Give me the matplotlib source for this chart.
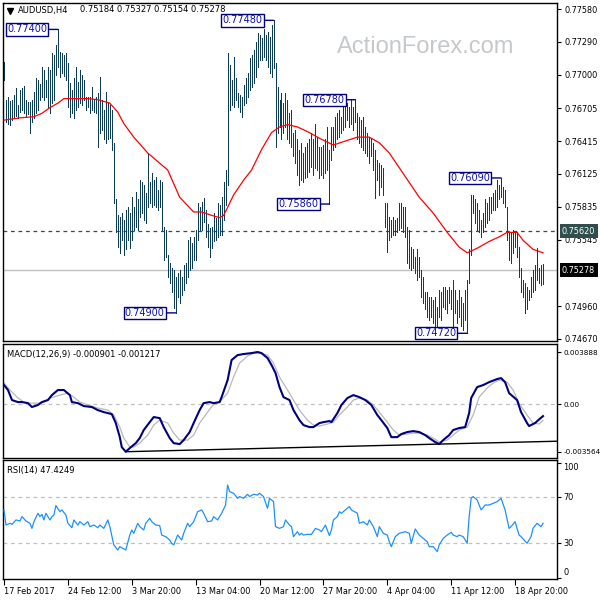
import matplotlib
matplotlib.use("Agg")
import matplotlib.pyplot as plt
from matplotlib.transforms import blended_transform_factory
import numpy as np

plt.rcParams['font.family'] = ['DejaVu Sans']

# ---------------- data ----------------
symbol = "AUDUSD,H4"
last_ohlc = [0.75184, 0.75327, 0.75154, 0.75278]

highs = [
    0.7711, 0.7678, 0.7680, 0.7677, 0.7678, 0.7682, 0.7688, 0.7673, 0.7687, 0.7688,
    0.7690, 0.7678, 0.7676, 0.7676, 0.7678, 0.7685, 0.7697, 0.7695, 0.7692, 0.7707,
    0.7704, 0.7695, 0.7707, 0.7704, 0.7719, 0.7717, 0.7726, 0.7740, 0.7720, 0.7719,
    0.7717, 0.7719, 0.7710, 0.7693, 0.7687, 0.7697, 0.7707, 0.7694, 0.7704, 0.7700,
    0.7695, 0.7680, 0.7680, 0.7680, 0.7689, 0.7678, 0.7680, 0.7684, 0.7698, 0.7678,
    0.7669, 0.7685, 0.7675, 0.7673, 0.7669, 0.7640, 0.7590, 0.7576, 0.7575, 0.7578,
    0.7572, 0.7581, 0.7583, 0.7578, 0.7592, 0.7583, 0.7597, 0.7590, 0.7607, 0.7605,
    0.7603, 0.7596, 0.7631, 0.7605, 0.7613, 0.7607, 0.7610, 0.7598, 0.7607, 0.7605,
    0.7566, 0.7563, 0.7541, 0.7534, 0.7530, 0.7528, 0.7522, 0.7525, 0.7528, 0.7522,
    0.7532, 0.7534, 0.7554, 0.7557, 0.7552, 0.7557, 0.7563, 0.7587, 0.7583, 0.7588,
    0.7591, 0.7581, 0.7568, 0.7565, 0.7566, 0.7578, 0.7574, 0.7587, 0.7585, 0.7592,
    0.7605, 0.7616, 0.7719, 0.7709, 0.7695, 0.7716, 0.7697, 0.7684, 0.7682, 0.7680,
    0.7691, 0.7697, 0.7702, 0.7715, 0.7717, 0.7722, 0.7729, 0.7737, 0.7735, 0.7732,
    0.7740, 0.7735, 0.7738, 0.7733, 0.7744, 0.7748, 0.7710, 0.7689, 0.7678, 0.7684,
    0.7675, 0.7684, 0.7678, 0.7666, 0.7669, 0.7649, 0.7651, 0.7643, 0.7634, 0.7640,
    0.7631, 0.7636, 0.7640, 0.7643, 0.7649, 0.7643, 0.7657, 0.7645, 0.7636, 0.7636,
    0.7638, 0.7643, 0.7654, 0.7634, 0.7654, 0.7654, 0.7663, 0.7666, 0.7669, 0.7663,
    0.7672, 0.7675, 0.7675, 0.7672, 0.7678, 0.7672, 0.7678, 0.7666, 0.7663, 0.7660,
    0.7663, 0.7654, 0.7649, 0.7645, 0.7643, 0.7640, 0.7634, 0.7625, 0.7622, 0.7620,
    0.7618, 0.7587, 0.7587, 0.7575, 0.7572, 0.7575, 0.7572, 0.7574, 0.7587, 0.7587,
    0.7583, 0.7583, 0.7566, 0.7563, 0.7548, 0.7546, 0.7539, 0.7546, 0.7539, 0.7528,
    0.7522, 0.7508, 0.7508, 0.7504, 0.7504, 0.7501, 0.7504, 0.7495, 0.7510, 0.7508,
    0.7513, 0.7513, 0.7510, 0.7513, 0.7510, 0.7519, 0.7510, 0.7501, 0.7510, 0.7504,
    0.7499, 0.7510, 0.7519, 0.7546, 0.7594, 0.7594, 0.7590, 0.7587, 0.7581, 0.7572,
    0.7578, 0.7590, 0.7587, 0.7592, 0.7592, 0.7596, 0.7598, 0.7607, 0.7603, 0.7609,
    0.7601, 0.7598, 0.7583, 0.7561, 0.7561, 0.7563, 0.7561, 0.7561, 0.7548, 0.7530,
    0.7519, 0.7516, 0.7513, 0.7510, 0.7522, 0.7528, 0.7532, 0.7547, 0.7530, 0.7532,
    0.75327,
]
lows = [
    0.7695, 0.7658, 0.7657, 0.7656, 0.7660, 0.7662, 0.7664, 0.7662, 0.7667, 0.7669,
    0.7666, 0.7663, 0.7665, 0.7649, 0.7658, 0.7662, 0.7666, 0.7669, 0.7678, 0.7680,
    0.7678, 0.7680, 0.7672, 0.7666, 0.7675, 0.7678, 0.7700, 0.7707, 0.7698, 0.7702,
    0.7699, 0.7695, 0.7672, 0.7663, 0.7666, 0.7662, 0.7669, 0.7672, 0.7675, 0.7673,
    0.7678, 0.7669, 0.7672, 0.7666, 0.7669, 0.7667, 0.7666, 0.7636, 0.7649, 0.7651,
    0.7643, 0.7640, 0.7643, 0.7644, 0.7634, 0.7587, 0.7561, 0.7548, 0.7543, 0.7554,
    0.7541, 0.7546, 0.7554, 0.7547, 0.7554, 0.7563, 0.7566, 0.7563, 0.7575, 0.7578,
    0.7572, 0.7569, 0.7583, 0.7587, 0.7583, 0.7585, 0.7583, 0.7581, 0.7583, 0.7563,
    0.7537, 0.7539, 0.7522, 0.7516, 0.7508, 0.7494, 0.7490, 0.7504, 0.7499, 0.7506,
    0.7510, 0.7516, 0.7522, 0.7528, 0.7530, 0.7537, 0.7537, 0.7554, 0.7563, 0.7563,
    0.7570, 0.7557, 0.7548, 0.7539, 0.7547, 0.7553, 0.7554, 0.7557, 0.7559, 0.7559,
    0.7572, 0.7585, 0.7603, 0.7669, 0.7673, 0.7672, 0.7678, 0.7672, 0.7667, 0.7663,
    0.7673, 0.7675, 0.7680, 0.7687, 0.7689, 0.7693, 0.7698, 0.7707, 0.7713, 0.7713,
    0.7716, 0.7713, 0.7707, 0.7702, 0.7698, 0.7706, 0.7636, 0.7649, 0.7654, 0.7643,
    0.7649, 0.7654, 0.7643, 0.7640, 0.7636, 0.7628, 0.7622, 0.7612, 0.7603, 0.7607,
    0.7605, 0.7609, 0.7610, 0.7614, 0.7619, 0.7612, 0.7618, 0.7616, 0.7609, 0.7612,
    0.7609, 0.7613, 0.7616, 0.7586, 0.7625, 0.7634, 0.7636, 0.7643, 0.7645, 0.7649,
    0.7651, 0.7654, 0.7660, 0.7654, 0.7657, 0.7651, 0.7658, 0.7643, 0.7640, 0.7636,
    0.7634, 0.7631, 0.7628, 0.7622, 0.7628, 0.7616, 0.7591, 0.7607, 0.7594, 0.7601,
    0.7594, 0.7566, 0.7544, 0.7554, 0.7557, 0.7559, 0.7559, 0.7561, 0.7563, 0.7565,
    0.7561, 0.7557, 0.7534, 0.7530, 0.7528, 0.7530, 0.7525, 0.7519, 0.7522, 0.7504,
    0.7499, 0.7493, 0.7486, 0.7484, 0.7486, 0.7481, 0.7475, 0.7478, 0.7486, 0.7484,
    0.7495, 0.7493, 0.7490, 0.7499, 0.7493, 0.7473, 0.7490, 0.7481, 0.7486, 0.7478,
    0.7475, 0.7484, 0.7472, 0.7516, 0.7541, 0.7578, 0.7569, 0.7563, 0.7561, 0.7557,
    0.7561, 0.7566, 0.7569, 0.7572, 0.7578, 0.7581, 0.7581, 0.7583, 0.7590, 0.7592,
    0.7587, 0.7583, 0.7554, 0.7537, 0.7534, 0.7543, 0.7548, 0.7539, 0.7522, 0.7508,
    0.7504, 0.7490, 0.7493, 0.7501, 0.7504, 0.7508, 0.7510, 0.7519, 0.7516, 0.7515,
    0.75154,
]

ma_idx = [0, 8, 15, 19, 23, 27, 30, 42, 47, 53, 57, 60, 65, 72, 80, 82, 88, 95, 99, 104,
          108, 110, 112, 115, 120, 124, 129, 134, 138, 142, 147, 153, 158, 165, 170, 177, 183, 188, 193, 198,
          208, 215, 222, 228, 232, 237, 243, 248, 252, 257, 260, 265, 270]
ma_val = [0.7660, 0.7662, 0.7663, 0.7666, 0.7671, 0.7675, 0.7679, 0.7679, 0.7678, 0.7675,
          0.7667, 0.7657, 0.7645, 0.7631, 0.7619, 0.7616, 0.7592, 0.7579, 0.7579, 0.7576,
          0.7574, 0.7576, 0.7583, 0.7594, 0.7607, 0.7616, 0.7634, 0.7649, 0.7654, 0.7656,
          0.7654, 0.7649, 0.7644, 0.7638, 0.7641, 0.7645, 0.7645, 0.7640, 0.7631, 0.7618,
          0.7592, 0.7578, 0.7561, 0.7548, 0.7543, 0.7547, 0.7553, 0.7557, 0.7561, 0.7561,
          0.7554, 0.7546, 0.7543]

swing_idx = [27, 135, 176, 163, 86, 249, 232]
swing_price = [0.7740, 0.7748, 0.7678, 0.7586, 0.7490, 0.7609, 0.7472]

price_ticks = [0.77580, 0.77290, 0.77000, 0.76705, 0.76415, 0.76125, 0.75835, 0.75545, 0.74960, 0.74670]
hline_level = 0.75620

x_tick_idx = [0, 32, 64, 96, 128, 160, 192, 224, 256]
x_tick_labels = ["17 Feb 2017", "24 Feb 12:00", "3 Mar 20:00", "13 Mar 04:00", "20 Mar 12:00",
                 "27 Mar 20:00", "4 Apr 04:00", "11 Apr 12:00", "18 Apr 20:00"]

macd_idx = [0, 2, 4, 7, 9, 12, 14, 17, 19, 22, 24, 27, 30, 33, 34, 37, 40, 44, 47, 50,
            54, 56, 58, 59, 61, 63, 66, 68, 70, 73, 75, 78, 80, 83, 85, 88, 90, 93, 95, 98,
            100, 103, 105, 108, 109, 112, 114, 117, 120, 124, 127, 129, 132, 134, 136, 138, 140, 143, 145, 148,
            150, 153, 155, 158, 160, 163, 164, 167, 169, 172, 175, 178, 181, 184, 187, 189, 192, 194, 197, 199,
            202, 205, 208, 211, 213, 216, 218, 220, 223, 225, 228, 231, 233, 234, 237, 240, 243, 247, 249, 251,
            253, 257, 259, 262, 263, 266, 268, 270]
macd_val = [0.00142, 0.00105, 0.00030, 0.00015, 0.00015, 0.00007, -0.00022, -0.00007, 0.00015, 0.00030,
            0.00067, 0.00105, 0.00105, 0.00067, 0.00015, 0.00007, -0.00015, -0.00022, -0.00045, -0.00060,
            -0.00075, -0.00142, -0.00247, -0.00322, -0.00356, -0.00329, -0.00292, -0.00254, -0.00194, -0.00135,
            -0.00097, -0.00105, -0.00172, -0.00254, -0.00292, -0.00299, -0.00269, -0.00209, -0.00142, -0.00045,
            0.00007, 0.00015, 0.00007, 0.00015, 0.00052, 0.00179, 0.00329, 0.00366, 0.00374, 0.00381,
            0.00389, 0.00381, 0.00344, 0.00292, 0.00232, 0.00127, 0.00052, 0.00030, -0.00045, -0.00120,
            -0.00157, -0.00172, -0.00172, -0.00142, -0.00135, -0.00127, -0.00135, -0.00067, -0.00007, 0.00045,
            0.00067, 0.00052, 0.00030, -0.00007, -0.00082, -0.00120, -0.00179, -0.00247, -0.00247, -0.00224,
            -0.00209, -0.00202, -0.00209, -0.00232, -0.00254, -0.00284, -0.00299, -0.00269, -0.00232, -0.00194,
            -0.00179, -0.00172, -0.00067, 0.00045, 0.00127, 0.00142, 0.00164, 0.00187, 0.00194, 0.00164,
            0.00082, 0.00030, -0.00060, -0.00142, -0.00164, -0.00142, -0.00115, -0.00090]

sig_idx = [0, 3, 7, 10, 13, 17, 20, 23, 28, 32, 35, 38, 42, 47, 52, 55, 58, 60, 63, 65,
           68, 72, 75, 78, 82, 85, 88, 92, 95, 98, 102, 105, 108, 112, 115, 118, 122, 125, 128, 132,
           135, 138, 142, 145, 148, 152, 155, 158, 162, 165, 168, 172, 175, 178, 182, 185, 188, 192, 195, 198,
           202, 205, 208, 212, 215, 218, 222, 225, 228, 232, 235, 238, 242, 245, 248, 252, 255, 258, 262, 265,
           268, 270]
sig_val = [0.00157, 0.00105, 0.00045, 0.00015, 0.00007, 0.00007, 0.00015, 0.00045, 0.00067, 0.00082,
           0.00052, 0.00015, -0.00007, -0.00030, -0.00045, -0.00082, -0.00172, -0.00254, -0.00321, -0.00321,
           -0.00291, -0.00232, -0.00157, -0.00120, -0.00142, -0.00217, -0.00269, -0.00269, -0.00232, -0.00142,
           -0.00060, 0.0, 0.00015, 0.00082, 0.00202, 0.00306, 0.00359, 0.00381, 0.00381, 0.00366,
           0.00306, 0.00202, 0.00105, 0.00030, -0.00045, -0.00120, -0.00157, -0.00164, -0.00149, -0.00135,
           -0.00082, -0.00022, 0.00030, 0.00045, 0.00030, -0.00007, -0.00060, -0.00135, -0.00194, -0.00232,
           -0.00224, -0.00217, -0.00217, -0.00232, -0.00254, -0.00284, -0.00269, -0.00232, -0.00194, -0.00172,
           -0.00082, 0.00052, 0.00120, 0.00157, 0.00179, 0.00164, 0.00105, 0.00007, -0.00082, -0.00142,
           -0.00149, -0.00122]

trend_idx = [61, 218]
trend_val = [-0.00356, -0.00299]
macd_ticks = [0.003888, 0.0, -0.003564]
macd_tick_labels = ["0.003888", "0.00", "-0.003564"]

rsi_idx = [0, 1, 3, 4, 6, 8, 9, 11, 13, 14, 15, 17, 18, 19, 20, 21, 23, 24, 25, 26,
           28, 29, 31, 32, 34, 35, 37, 38, 40, 42, 43, 45, 47, 48, 50, 52, 53, 55, 57, 58,
           60, 61, 63, 64, 65, 67, 68, 70, 71, 73, 74, 76, 78, 79, 81, 83, 84, 85, 87, 89,
           90, 92, 93, 95, 97, 99, 100, 102, 104, 105, 107, 109, 111, 112, 113, 115, 117, 118, 120, 122,
           123, 125, 127, 128, 130, 132, 133, 135, 136, 138, 140, 141, 143, 144, 145, 147, 148, 149, 150, 152,
           154, 156, 158, 159, 161, 163, 164, 165, 167, 168, 169, 171, 173, 174, 177, 178, 180, 182, 183, 185,
           187, 188, 190, 192, 193, 194, 196, 198, 201, 203, 204, 206, 208, 210, 212, 213, 215, 217, 218, 220,
           222, 224, 225, 227, 228, 230, 232, 233, 234, 235, 237, 239, 241, 243, 245, 247, 249, 251, 253, 254,
           256, 258, 259, 262, 264, 265, 267, 269, 270]
rsi_val = [59.0, 45.9, 47.4, 46.5, 50.3, 49.4, 53.2, 49.4, 47.4, 43.0, 48.8, 56.1, 53.2, 55.2, 50.3, 56.1, 50.3, 53.2, 54.6, 62.8,
           57.5, 59.0, 54.6, 47.4, 43.6, 50.3, 45.9, 48.8, 45.9, 48.8, 44.5, 45.9, 43.6, 45.9, 43.0, 50.3, 44.5, 28.6, 24.2, 27.1,
           25.1, 24.2, 37.2, 41.6, 38.7, 47.4, 44.5, 41.6, 47.4, 51.7, 48.8, 45.9, 45.4, 37.2, 35.8, 32.9, 30.0, 28.6, 37.2, 32.9,
           38.7, 47.4, 44.5, 48.8, 57.5, 59.0, 56.1, 48.8, 49.4, 53.2, 50.3, 56.1, 63.3, 80.7, 74.9, 73.5, 69.1, 70.6, 69.1, 72.6,
           70.6, 72.6, 72.0, 73.5, 70.6, 60.4, 69.1, 66.2, 44.5, 43.0, 44.5, 50.3, 45.9, 44.5, 35.8, 40.1, 37.2, 38.7, 37.2, 37.8,
           37.8, 43.0, 41.6, 40.1, 45.9, 36.7, 41.6, 50.3, 53.2, 57.5, 56.1, 59.0, 61.9, 59.0, 56.1, 47.4, 48.8, 45.9, 50.3, 44.5,
           35.8, 44.5, 38.7, 37.2, 31.4, 27.1, 35.8, 38.7, 40.1, 38.7, 30.0, 42.5, 37.2, 34.3, 31.4, 27.1, 27.1, 22.8, 28.6, 34.3,
           37.2, 39.6, 37.2, 35.8, 37.2, 35.8, 30.0, 53.2, 69.1, 70.6, 67.7, 59.0, 63.3, 63.3, 64.8, 66.2, 69.1, 59.0, 43.0, 44.5,
           48.8, 37.2, 35.8, 30.0, 35.8, 43.0, 47.4, 44.5, 47.42]
rsi_levels = [70, 30]
rsi_ticks = [100, 70, 30, 0]

# ---------------- styling ----------------
FS = 5.9
BAR = '#0E3B58'
NAVY = '#000080'
SLATE = '#2F4F4F'
W, H = 600, 600
XMAX = 277

fig = plt.figure(figsize=(6, 6), dpi=100)
fig.patch.set_facecolor('white')


def px_axes(x0, y0, x1, y1):
    return fig.add_axes([x0 / W, 1 - y1 / H, (x1 - x0) / W, (y1 - y0) / H])


ax1 = px_axes(3, 3, 557, 341)
ax2 = px_axes(3, 344, 557, 458)
ax3 = px_axes(3, 460, 557, 579)

for ax in (ax1, ax2, ax3):
    ax.set_xlim(-0.5, XMAX)
    ax.set_facecolor('white')
    for s in ax.spines.values():
        s.set_color('black')
        s.set_linewidth(1.0)
    ax.yaxis.tick_right()
    ax.tick_params(axis='y', direction='out', length=3, width=0.8, pad=2.5,
                   labelsize=FS, colors='black')
    ax.tick_params(axis='x', bottom=False, labelbottom=False, top=False)

# ---- price panel ----
idx = np.arange(len(highs))
ax1.set_ylim(0.74652, 0.77633)
ax1.axhline(last_ohlc[3], color='#C0C0C0', lw=1.0, zorder=1)
ax1.axhline(hline_level, color=SLATE, lw=0.9, ls=(0, (3, 3)), zorder=1)
ax1.vlines(idx, lows, highs, color=BAR, lw=0.72, antialiased=False, zorder=2)
ax1.plot(ma_idx, ma_val, color='red', lw=0.9, zorder=3)
ax1.set_yticks(price_ticks)
ax1.set_yticklabels([f"{v:.5f}" for v in price_ticks])

trp = blended_transform_factory(ax1.transAxes, ax1.transData)
ax1.text((562 - 3) / 554, hline_level, f"{hline_level:.5f}", transform=trp, ha='left', va='center',
         color='white', fontsize=FS, clip_on=False, zorder=5,
         bbox=dict(boxstyle='square,pad=0.3', fc=SLATE, ec='none'))
ax1.text((562 - 3) / 554, last_ohlc[3], f"{last_ohlc[3]:.5f}", transform=trp, ha='left', va='center',
         color='white', fontsize=FS, clip_on=False, zorder=5,
         bbox=dict(boxstyle='square,pad=0.3', fc='black', ec='none'))

for si, sp in zip(swing_idx, swing_price):
    ax1.annotate(f"{sp:.5f}", xy=(si, sp), xytext=(-11, 0), textcoords='offset pixels',
                 ha='right', va='center', fontsize=7, color='#1010B0', zorder=6,
                 bbox=dict(boxstyle='square,pad=0.12', fc='white', ec=NAVY, lw=1.0),
                 arrowprops=dict(arrowstyle='-', color=NAVY, lw=1.0, shrinkA=0, shrinkB=0))

# title and watermark
ax1.plot([(9.5 - 3) / 554], [1 - (11 - 3) / 338], marker='v', ms=4, color='black',
         transform=ax1.transAxes, clip_on=False)
ax1.text((18 - 3) / 554, 1 - (10 - 3) / 338, symbol, transform=ax1.transAxes,
         ha='left', va='center', fontsize=6.0, color='black')
ax1.text((80 - 3) / 554, 1 - (10 - 3) / 338, " ".join(f"{v:.5f}" for v in last_ohlc),
         transform=ax1.transAxes, ha='left', va='center', fontsize=6.0, color='black')
ax1.text((337 - 3) / 554, 1 - (47 - 3) / 338, "ActionForex.com", transform=ax1.transAxes,
         ha='left', va='center', fontsize=17, color='#C6C9CC', family=['Liberation Sans'], zorder=0)

# ---- MACD panel ----
ax2.set_ylim(-0.00403, 0.00449)
ax2.axhline(0, color='#C0C0C0', lw=0.9, ls=(0, (3, 3)), zorder=1)
ax2.plot(sig_idx, sig_val, color='#B8B8B8', lw=0.9, zorder=2)
ax2.plot(macd_idx, macd_val, color=NAVY, lw=1.5, zorder=3)
slope = (trend_val[1] - trend_val[0]) / (trend_idx[1] - trend_idx[0])
ax2.plot([trend_idx[0], XMAX], [trend_val[0], trend_val[0] + slope * (XMAX - trend_idx[0])],
         color='black', lw=1.0, zorder=4)
ax2.set_yticks(macd_ticks)
ax2.set_yticklabels(macd_tick_labels)
ax2.tick_params(axis='y', labelsize=5.2, pad=1.6)
ax2.text((7 - 3) / 554, 1 - (354 - 344) / 114, "MACD(12,26,9) -0.000901 -0.001217",
         transform=ax2.transAxes, ha='left', va='center', fontsize=6.0, color='black')

# ---- RSI panel ----
ax3.set_ylim(-1.0, 102.4)
for lv in rsi_levels:
    ax3.axhline(lv, color='#C0C0C0', lw=0.9, ls=(0, (3, 3)), zorder=1)
ax3.plot(rsi_idx, rsi_val, color='#1E90FF', lw=0.9, zorder=3)
ax3.set_yticks(rsi_ticks)
ax3.set_yticklabels([])
trr = blended_transform_factory(ax3.transAxes, ax3.transData)
for t in rsi_ticks:
    shift = -4.3 if t == 100 else (4.3 if t == 0 else 0.0)
    ax3.text((563 - 3) / 554, t + shift, str(t), transform=trr, ha='left', va='center',
             fontsize=FS, color='black', clip_on=False)
ax3.text((7 - 3) / 554, 1 - (470 - 460) / 119, "RSI(14) 47.4249",
         transform=ax3.transAxes, ha='left', va='center', fontsize=6.0, color='black')

ax3.tick_params(axis='x', bottom=True, labelbottom=True, direction='out', length=4,
                width=0.8, pad=1.5, labelsize=FS, colors='black')
ax3.set_xticks(x_tick_idx)
ax3.set_xticklabels(x_tick_labels, ha='left')

fig.savefig("out.png", dpi=100, facecolor='white')
